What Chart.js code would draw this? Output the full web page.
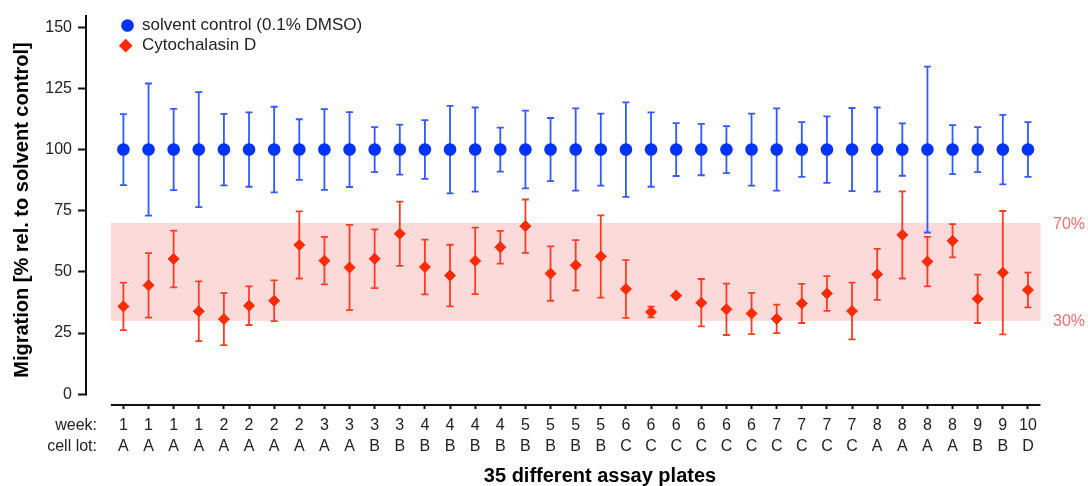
<!DOCTYPE html>
<html>
<head>
<meta charset="utf-8">
<script src="https://cdn.jsdelivr.net/npm/chart.js@4.4.1/dist/chart.umd.min.js"></script>
<style>
  html, body { margin: 0; padding: 0; background: #fff; }
  #wrap { width: 1088px; height: 486px; position: relative; }
</style>
</head>
<body>
<div id="wrap"><canvas id="myChart"></canvas></div>
<script>
const weeks = ['1', '1', '1', '1', '2', '2', '2', '2', '3', '3', '3', '3', '4', '4', '4', '4', '5', '5', '5', '5',
    '6', '6', '6', '6', '6', '6', '7', '7', '7', '7', '8', '8', '8', '8', '9', '9', '10'];
const cellLots = ['A', 'A', 'A', 'A', 'A', 'A', 'A', 'A', 'A', 'A', 'B', 'B', 'B', 'B', 'B', 'B', 'B', 'B', 'B', 'B',
    'C', 'C', 'C', 'C', 'C', 'C', 'C', 'C', 'C', 'C', 'A', 'A', 'A', 'A', 'B', 'B', 'D'];

const controlMean = [100, 100, 100, 100, 100, 100, 100, 100, 100, 100, 100, 100, 100, 100, 100, 100, 100, 100, 100,
    100, 100, 100, 100, 100, 100, 100, 100, 100, 100, 100, 100, 100, 100, 100, 100, 100, 100];
const controlSD = [14.5, 27.0, 16.6, 23.5, 14.6, 15.2, 17.5, 12.4, 16.5, 15.3, 9.2, 10.2, 12.0, 17.9, 17.2, 9.0,
    15.9, 12.9, 16.8, 14.7, 19.3, 15.2, 10.8, 10.5, 9.6, 14.7, 16.8, 11.2, 13.6, 17.0, 17.2, 10.7, 33.9, 10.0,
    9.2, 14.2, 11.2];

const cytoMean = [35.9, 44.5, 55.3, 33.9, 30.7, 36.2, 38.2, 61.0, 54.6, 51.8, 55.4, 65.6, 52.0, 48.5, 54.5, 60.1,
    68.7, 49.3, 52.7, 56.3, 43.0, 33.6, 40.3, 37.4, 34.7, 33.0, 30.8, 37.1, 41.2, 34.0, 49.0, 65.1, 54.2, 62.7,
    39.0, 49.7, 42.6];
const cytoSD = [9.7, 13.2, 11.6, 12.2, 10.6, 7.9, 8.3, 13.7, 9.7, 17.4, 12.0, 13.1, 11.2, 12.6, 13.6, 6.7, 10.9,
    11.1, 10.3, 16.8, 11.8, 2.2, 0.8, 9.7, 10.5, 8.4, 5.8, 8.0, 7.1, 11.6, 10.4, 17.8, 10.1, 6.8, 9.9, 25.2, 7.1];

const yTicks = [0, 25, 50, 75, 100, 125, 150];
const bandLow = 30;
const bandHigh = 70;

const BLUE = '#0033ff';
const BLUE_ERR = '#3558ff';
const RED = '#ff2a00';
const RED_ERR = '#ff3d26';
const TEXT = '#222';
const FONT = "'Liberation Sans', Arial, sans-serif";

function toPoints(arr) {
    return arr.map((v, i) => ({ x: i, y: v }));
}

function drawErrors(ctx, x, y, mean, sd, color) {
    ctx.strokeStyle = color;
    ctx.lineWidth = 1.8;
    mean.forEach((m, i) => {
        const px = x.getPixelForValue(i);
        const top = y.getPixelForValue(m + sd[i]);
        const bot = y.getPixelForValue(m - sd[i]);
        ctx.beginPath();
        ctx.moveTo(px, top);
        ctx.lineTo(px, bot);
        ctx.moveTo(px - 3.5, top);
        ctx.lineTo(px + 3.5, top);
        ctx.moveTo(px - 3.5, bot);
        ctx.lineTo(px + 3.5, bot);
        ctx.stroke();
    });
}

const extras = {
    id: 'extras',
    beforeDatasetsDraw(chart) {
        const { ctx, scales: { x, y } } = chart;
        ctx.save();
        // shaded 30-70% band
        const x0 = x.getPixelForValue(-0.5);
        const x1 = x.getPixelForValue(weeks.length - 0.5);
        const yTop = y.getPixelForValue(bandHigh);
        const yBot = y.getPixelForValue(bandLow);
        ctx.fillStyle = '#fddada';
        ctx.fillRect(x0, yTop, x1 - x0, yBot - yTop);

        drawErrors(ctx, x, y, controlMean, controlSD, BLUE_ERR);
        drawErrors(ctx, x, y, cytoMean, cytoSD, RED_ERR);
        ctx.restore();
    },
    afterDraw(chart) {
        const { ctx, chartArea, scales: { x, y } } = chart;
        ctx.save();
        ctx.strokeStyle = '#111';
        ctx.lineWidth = 2;
        // y axis spine (stops at 0)
        ctx.beginPath();
        ctx.moveTo(chartArea.left - 1, chartArea.top - 1);
        ctx.lineTo(chartArea.left - 1, y.getPixelForValue(0) + 1);
        ctx.stroke();
        // x axis spine
        ctx.beginPath();
        ctx.moveTo(x.getPixelForValue(-0.5), chartArea.bottom + 1);
        ctx.lineTo(x.getPixelForValue(weeks.length - 0.5), chartArea.bottom + 1);
        ctx.stroke();

        // row captions
        ctx.fillStyle = TEXT;
        ctx.font = '16px ' + FONT;
        ctx.textAlign = 'right';
        ctx.textBaseline = 'middle';
        ctx.fillText('week:', 97, chartArea.bottom + 21.4);
        ctx.fillText('cell lot:', 97, chartArea.bottom + 42.2);

        // band labels
        ctx.fillStyle = '#f26d6d';
        ctx.textAlign = 'left';
        ctx.fillText('70%', chartArea.right + 13, y.getPixelForValue(bandHigh) + 2);
        ctx.fillText('30%', chartArea.right + 13, y.getPixelForValue(bandLow) + 1);

        // x title
        ctx.fillStyle = '#000';
        ctx.font = 'bold 20px ' + FONT;
        ctx.textAlign = 'center';
        ctx.fillText('35 different assay plates', 600, 476);

        // legend
        ctx.font = '17px ' + FONT;
        ctx.textAlign = 'left';
        ctx.fillStyle = BLUE;
        ctx.strokeStyle = BLUE;
        Chart.helpers.drawPoint(ctx, { pointStyle: 'circle', radius: 6.3, rotation: 0, borderWidth: 0 }, 127.5, 25.5);
        ctx.fillStyle = RED;
        ctx.strokeStyle = RED;
        Chart.helpers.drawPoint(ctx, { pointStyle: 'rectRot', radius: 5.5, rotation: 0, borderWidth: 1 }, 125.7, 45.7);
        ctx.fillStyle = TEXT;
        ctx.fillText('solvent control (0.1% DMSO)', 142, 25.5);
        ctx.fillText('Cytochalasin D', 142, 45.7);
        ctx.restore();
    }
};

const ctx = document.getElementById('myChart').getContext('2d');

new Chart(ctx, {
    type: 'scatter',
    data: {
        datasets: [
            {
                label: 'solvent control (0.1% DMSO)',
                data: toPoints(controlMean),
                pointStyle: 'circle',
                pointRadius: 6.3,
                pointBorderWidth: 0,
                pointBackgroundColor: BLUE,
                pointBorderColor: BLUE,
                showLine: false
            },
            {
                label: 'Cytochalasin D',
                data: toPoints(cytoMean),
                pointStyle: 'rectRot',
                pointRadius: 5.5,
                pointBorderWidth: 1,
                pointBackgroundColor: RED,
                pointBorderColor: RED,
                showLine: false
            }
        ]
    },
    options: {
        responsive: true,
        maintainAspectRatio: false,
        animation: false,
        events: [],
        layout: {
            padding: { top: 16, right: 48, bottom: 0, left: 0 }
        },
        scales: {
            x: {
                type: 'linear',
                min: -1.449,
                max: 36.48,
                afterFit: s => { s.height = 82; },
                afterBuildTicks: s => { s.ticks = weeks.map((_, i) => ({ value: i })); },
                border: { display: false },
                grid: {
                    drawOnChartArea: false,
                    drawTicks: true,
                    tickLength: 5,
                    tickWidth: 2,
                    tickColor: '#111'
                },
                ticks: {
                    color: TEXT,
                    padding: 6,
                    maxRotation: 0,
                    minRotation: 0,
                    autoSkip: false,
                    font: { family: FONT, size: 16, lineHeight: 1.3 },
                    callback: function (value) {
                        return [weeks[value], cellLots[value]];
                    }
                }
            },
            y: {
                min: -4,
                max: 154.6,
                afterFit: s => { s.width = 87; },
                afterBuildTicks: s => { s.ticks = yTicks.map(v => ({ value: v })); },
                border: { display: false },
                grid: {
                    drawOnChartArea: false,
                    drawTicks: true,
                    tickLength: 9,
                    tickWidth: 2,
                    tickColor: '#111'
                },
                ticks: {
                    color: TEXT,
                    padding: 6,
                    font: { family: FONT, size: 16 }
                },
                title: {
                    display: true,
                    text: 'Migration [% rel. to solvent control]',
                    color: '#000',
                    padding: { top: 10, bottom: 0 },
                    font: { family: FONT, size: 20, weight: 'bold' }
                }
            }
        },
        plugins: {
            legend: { display: false },
            tooltip: { enabled: false }
        }
    },
    plugins: [extras]
});
</script>
</body>
</html>
